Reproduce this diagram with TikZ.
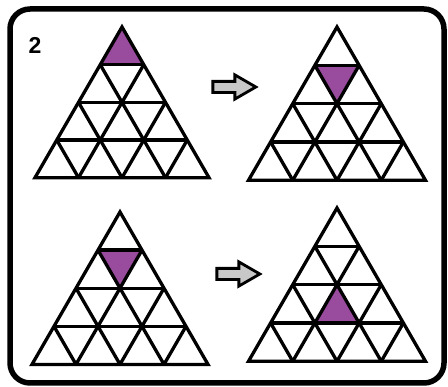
\documentclass[tikz,border=0pt]{standalone}
\usepackage{fontspec}
\setmainfont{Liberation Sans}
\usepackage{tikz}
\usetikzlibrary{shapes.arrows, positioning, calc}
\definecolor{cellfill}{RGB}{153, 75, 158}
\definecolor{arrowfill}{RGB}{200, 200, 200}

% triangle grid: apex x, apex y, side, filled cell
\newcommand{\gridtri}[4]{%
  \begin{scope}[shift={(#1,#2)}, x=#3/8*1pt, y=-0.866*#3/4*1pt]
    \fill[cellfill] #4;
    \draw[gridline] (0,0) -- (-4,4) -- (4,4) -- cycle;
    \foreach \k in {1,2,3} {
      \draw[gridline] (-\k,\k) -- (\k,\k);
      \draw[gridline] (-\k,\k) -- ({4-2*\k},4);
      \draw[gridline] (\k,\k) -- ({2*\k-4},4);
    }
  \end{scope}}

\begin{document}
\begin{tikzpicture}[x=1pt, y=-1pt,
    gridline/.style={line width=3.3pt},
    blockarrow/.style={shape=single arrow, draw, fill=arrowfill, line width=2.8pt,
      inner xsep=0pt, inner ysep=4.2pt, minimum height=43pt,
      single arrow head extend=6.5pt, single arrow tip angle=60}]
    \useasboundingbox (0,0) rectangle (448,387);
    % Frame
    \draw[line width=5.5pt, rounded corners=20pt] (10,9) rectangle (444,383);
    % Nodes
    \node[font=\fontsize{23}{27}\selectfont\bfseries] (num) at (35,45) {2};
    \node[blockarrow] (shiftone) at (229.5,87) {};
    \node[blockarrow] (shifttwo) at (233.5,274) {};
    % Triangles
    \gridtri{122}{27}{174}{(0,0) -- (-1,1) -- (1,1) -- cycle}
    \gridtri{337}{27}{177}{(-1,1) -- (1,1) -- (0,2) -- cycle}
    \gridtri{120}{212}{176}{(-1,1) -- (1,1) -- (0,2) -- cycle}
    \gridtri{337}{208}{177}{(0,2) -- (-1,3) -- (1,3) -- cycle}
\end{tikzpicture}
\end{document}
